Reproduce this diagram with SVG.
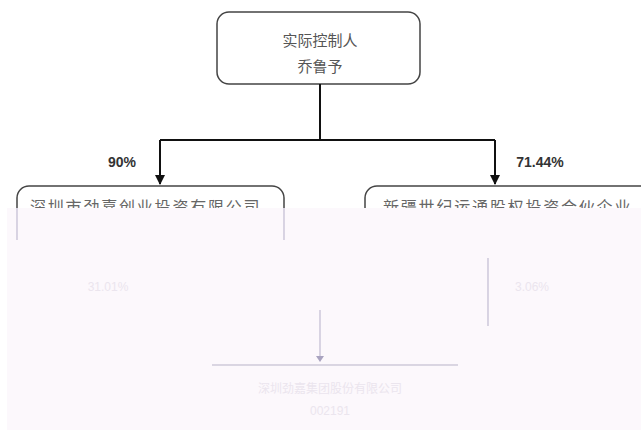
<svg xmlns="http://www.w3.org/2000/svg" width="641" height="448" viewBox="0 0 641 448">
<defs>
<style>
.box{fill:#fff;stroke:#444;stroke-width:1.5}
.t{font-family:"Noto Sans CJK SC","Liberation Sans",sans-serif;fill:#555;font-size:15px;text-anchor:middle}
.h{font-family:"Noto Sans CJK SC","Liberation Sans",sans-serif;fill:#666;font-size:16px;letter-spacing:1.8px}
.p{font-family:"Liberation Sans",sans-serif;font-weight:bold;fill:#333;font-size:14px;text-anchor:middle}
.ln{stroke:#111;stroke-width:2;fill:none}
.fl{stroke:#b3adc8;stroke-width:1.2;fill:none}
.ft{font-family:"Liberation Sans","Noto Sans CJK SC",sans-serif;fill:#ebe5ee;font-size:12px;text-anchor:middle}
</style>
<marker id="ah" viewBox="0 0 10 10" refX="9" refY="5" markerWidth="5" markerHeight="5" orient="auto"><path d="M0,0L10,5L0,10z" fill="#111"/></marker>
</defs>
<rect width="641" height="448" fill="#fff"/>
<g id="controller">
<rect class="box" x="217" y="12" width="203" height="72" rx="12"/>
<text class="t" x="320" y="46">实际控制人</text>
<text class="t" x="320" y="72">乔鲁予</text>
</g>
<g id="left-holder">
<rect class="box" x="17" y="186" width="267" height="80" rx="12"/>
<text class="h" x="30" y="213">深圳市劲嘉创业投资有限公司</text>
</g>
<g id="right-holder">
<rect class="box" x="365" y="186" width="290" height="80" rx="12"/>
<text class="h" x="383" y="213">新疆世纪运通股权投资合伙企业</text>
</g>
<g id="connectors">
<path class="ln" d="M320,84V140M160,140H495"/>
<path class="ln" d="M160,140V184" marker-end="url(#ah)"/>
<path class="ln" d="M495,140V184" marker-end="url(#ah)"/>
<text class="p" x="122" y="167">90%</text>
<text class="p" x="540" y="167">71.44%</text>
</g>
<rect x="7" y="208" width="634" height="222" fill="#fcf8fc"/>
<g id="faint">
<path class="fl" d="M17,208V240M284,208V240M488,258V326M320,310V358" opacity="0.8"/>
<path d="M316,356L320,362L324,356z" fill="#a9a3c0"/>
<path d="M212,365H458" stroke="#b8b3c8" stroke-width="1"/>
<text class="ft" x="108" y="291">31.01%</text>
<text class="ft" x="532" y="291">3.06%</text>
<text class="ft" x="330" y="393" font-size="14">深圳劲嘉集团股份有限公司</text>
<text class="ft" x="330" y="415">002191</text>
</g>
</svg>
